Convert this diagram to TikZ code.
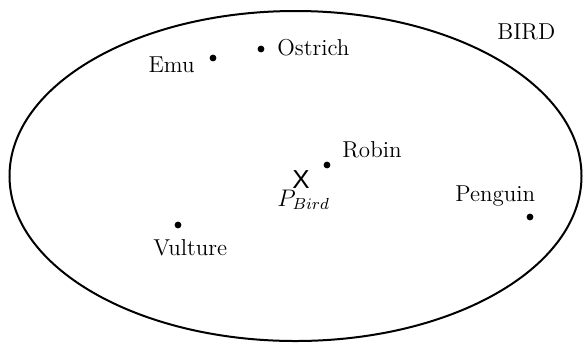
\documentclass[tikz,border=0pt]{standalone}
\usepackage{fontspec}
\newfontfamily\xfont{Liberation Sans}
\tikzset{
    point/.style={circle,fill=black,inner sep=0pt,minimum size=3.4pt},
    lab/.style={inner sep=0pt,font=\fontsize{11.5}{13}\selectfont},
}
\begin{document}
\begin{tikzpicture}[x=0.5pt,y=-0.5pt]
    \useasboundingbox (0,0) rectangle (583,344);

    % Ensemble des oiseaux
    \draw[line width=1pt] (295.5,176) ellipse [x radius=286, y radius=165];
    \node[lab,anchor=base west] (bird) at (497,39) {BIRD};

    % Exemplaires
    \node[point] (emu) at (213,58) {};
    \node[point] (ostrich) at (261,49) {};
    \node[point] (robin) at (327,165) {};
    \node[point] (penguin) at (530,217) {};
    \node[point] (vulture) at (178,225) {};

    \node[lab,anchor=base east] (emulab) at (195,72) {Emu};
    \node[lab,anchor=base west] (ostrichlab) at (277,55) {Ostrich};
    \node[lab,anchor=base west] (robinlab) at (342,157) {Robin};
    \node[lab,anchor=base west] (penguinlab) at (455,201) {Penguin};
    \node[lab,anchor=base west] (vulturelab) at (153,255) {Vulture};

    % Prototype
    \node[inner sep=0pt,font=\xfont\fontsize{13}{15}\selectfont] (proto) at (301,180) {X};
    \node[lab,anchor=base west] (protolab) at (277,206) {$P_{Bird}$};
\end{tikzpicture}
\end{document}
